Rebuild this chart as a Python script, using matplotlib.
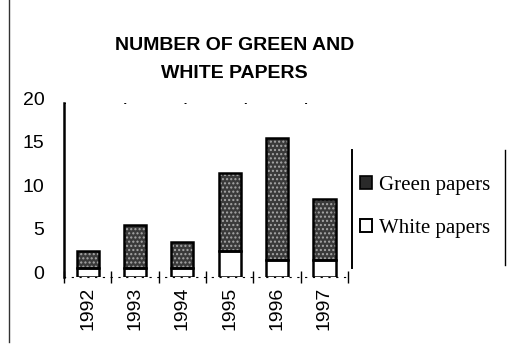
import numpy as np
import matplotlib
matplotlib.use('Agg')
from matplotlib import pyplot as plt
from matplotlib.lines import Line2D
from matplotlib.patches import Patch
import matplotlib.transforms as mtransforms

years = ['1992', '1993', '1994', '1995', '1996', '1997']
white_papers = [1, 1, 1, 3, 2, 2]
green_papers = [2, 5, 3, 9, 14, 7]
y_ticks = [0, 5, 10, 15, 20]

plt.rcParams['font.family'] = ['Liberation Sans', 'DejaVu Sans']

fig = plt.figure(figsize=(5.1, 3.45), dpi=100)
ax = fig.add_axes([0.1255, 0.197, 0.557, 0.504])

x = np.arange(len(years))
width = 0.47

# fills first, outlines drawn over them
ax.bar(x, white_papers, width, color='white', edgecolor='none', zorder=2)
ax.bar(x, green_papers, width, bottom=white_papers, color='#3a3a3a',
       edgecolor='#a8a8a8', linewidth=0, hatch='....', zorder=2)
ax.bar(x, white_papers, width, fill=False, edgecolor='black', linewidth=1.8, zorder=3)
ax.bar(x, green_papers, width, bottom=white_papers, fill=False,
       edgecolor='black', linewidth=1.8, zorder=3)

ax.set_xlim(-0.5, len(years) - 0.5)
ax.set_ylim(0, 20)
ax.set_yticks(y_ticks)
ax.set_xticks(x)
ax.set_xticklabels(years, rotation=90, fontsize=14)
ax.tick_params(axis='y', length=0, pad=14, labelsize=14)
ax.tick_params(axis='x', length=0, pad=7)

# y labels sit slightly above their values
shift = mtransforms.ScaledTranslation(0, 5 / 100, fig.dpi_scale_trans)
for lab in ax.get_yticklabels():
    lab.set_transform(lab.get_transform() + shift)

# category separators on the baseline
ax.set_xticks(np.arange(len(years) + 1) - 0.5, minor=True)
ax.tick_params(axis='x', which='minor', direction='inout', length=9, width=1.0)

for s in ['top', 'right']:
    ax.spines[s].set_visible(False)
ax.spines['left'].set_linewidth(1.8)
ax.spines['bottom'].set_linestyle((0, (1, 6)))
ax.spines['bottom'].set_linewidth(0.8)
ax.axhline(20, color='black', linestyle=(0, (1, 30)), linewidth=1.4, zorder=1)

fig.text(0.46, 0.828, 'NUMBER OF GREEN AND\nWHITE PAPERS', ha='center', va='center',
         fontsize=14, fontweight='bold', linespacing=1.82)

handles = [Patch(facecolor='#2a2a2a', edgecolor='black', linewidth=1.2),
           Patch(facecolor='white', edgecolor='black', linewidth=1.4)]
fig.legend(handles, ['Green papers', 'White papers'], loc='center left',
           bbox_to_anchor=(0.69, 0.40), frameon=False, borderaxespad=0,
           prop={'family': 'Liberation Serif', 'size': 15},
           handlelength=0.55, handleheight=0.55, handletextpad=0.35, labelspacing=1.15)

# legend box sides and the left edge rule
fig.add_artist(Line2D([352 / 510, 352 / 510], [1 - 150 / 345, 1 - 268 / 345], color='black', lw=1.4))
fig.add_artist(Line2D([505 / 510, 505 / 510], [1 - 150 / 345, 1 - 265 / 345], color='black', lw=1.0))
fig.add_artist(Line2D([9 / 510, 9 / 510], [1.0, 0.01], color='#333333', lw=1.0))

fig.savefig('out.png', dpi=100)
